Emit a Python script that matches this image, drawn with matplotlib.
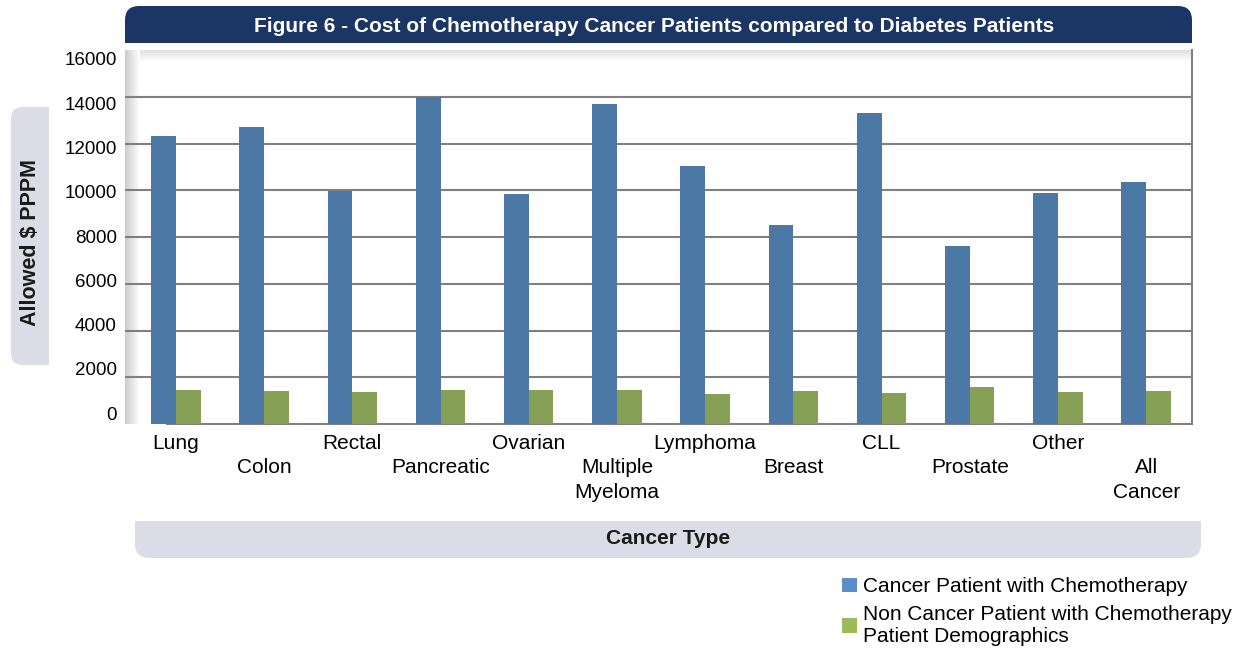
import numpy as np
import matplotlib.pyplot as plt
from matplotlib.patches import FancyBboxPatch, Rectangle, Patch

plt.rcParams['font.family'] = ['Liberation Sans', 'DejaVu Sans']

# Data
categories = ['Lung', 'Colon', 'Rectal', 'Pancreatic', 'Ovarian', 'Multiple\nMyeloma',
              'Lymphoma', 'Breast', 'CLL', 'Prostate', 'Other', 'All\nCancer']
cancer_chemo = [12300, 12700, 9950, 14000, 9830, 13700, 11020, 8510, 13320, 7620, 9870, 10340]
non_cancer_chemo = [1470, 1400, 1360, 1440, 1440, 1440, 1280, 1400, 1320, 1570, 1360, 1400]
yticks = [0, 2000, 4000, 6000, 8000, 10000, 12000, 14000, 16000]

blue = '#4b78a5'
green = '#86a055'
W, H = 1237, 651

fig = plt.figure(figsize=(W / 100, H / 100), dpi=100)

# background layer in pixel coordinates for the decorative boxes
bg = fig.add_axes([0, 0, 1, 1], zorder=-1)
bg.set_xlim(0, W)
bg.set_ylim(H, 0)
bg.axis('off')

# title bar (rounded top corners)
bg.add_patch(FancyBboxPatch((125, 6), 1067, 37, boxstyle='round,pad=0,rounding_size=14',
                            fc='#1b3564', ec='none'))
bg.add_patch(Rectangle((125, 25), 1067, 18, fc='#1b3564', ec='none'))
bg.text(654, 26, 'Figure 6 - Cost of Chemotherapy Cancer Patients compared to Diabetes Patients',
        color='white', fontsize=15, fontweight='bold', ha='center', va='center')

# y label box (rounded left side)
bg.add_patch(FancyBboxPatch((11, 107), 38, 258, boxstyle='round,pad=0,rounding_size=12',
                            fc='#dcdce6', ec='none'))
bg.add_patch(Rectangle((30, 107), 19, 258, fc='#dcdce6', ec='none'))
bg.text(31, 243, 'Allowed $ PPPM', rotation=90, fontsize=15.5, fontweight='bold',
        ha='center', va='center', color='#1a1a1a')

# x label box (rounded bottom corners)
bg.add_patch(FancyBboxPatch((135, 521), 1066, 37, boxstyle='round,pad=0,rounding_size=14',
                            fc='#dcdce6', ec='none'))
bg.add_patch(Rectangle((135, 521), 1066, 18, fc='#dcdce6', ec='none'))
bg.text(668, 539, 'Cancer Type', fontsize=15, fontweight='bold',
        ha='center', va='center', color='#1a1a1a')

# main chart
ax = fig.add_axes([125 / W, 1 - 424 / H, 1067 / W, 374 / H])
x = np.arange(len(categories))
bw = 0.28
ax.bar(x - bw / 2, cancer_chemo, bw, color=blue, zorder=3)
ax.bar(x + bw / 2, non_cancer_chemo, bw, color=green, zorder=3)

x0, x1 = -0.578, 11.52
for v in yticks[1:-1]:
    ax.axhline(v, color='#808080', lw=1.5, zorder=1)

# shaded wall edges (darker at the edge, fading inwards)
grad = np.linspace(0.8, 1, 40)
ax.imshow(np.linspace(0.88, 1, 40).reshape(-1, 1), cmap='gray', vmin=0, vmax=1,
          aspect='auto', extent=(x0, x1, 16000 - 500, 16000), origin='upper', zorder=0)
ax.imshow(np.tile(grad, (2, 1)), cmap='gray', vmin=0, vmax=1, aspect='auto',
          extent=(x0, x0 + 0.17, 0, 16000), zorder=0.5)
ax.set_xlim(x0, x1)
ax.set_ylim(0, 16000)

# the original's value labels sit slightly compressed against the gridlines
ax.set_yticks([468 + v * 0.9468 for v in yticks])
ax.set_yticklabels([str(v) for v in yticks], fontsize=13.5)

ax.set_xticks(x)
ax.set_xticklabels([c if i % 2 == 0 else '\n' + c for i, c in enumerate(categories)],
                   fontsize=15, va='top', linespacing=1.38)
ax.tick_params(axis='both', length=0)
ax.tick_params(axis='x', pad=7)
ax.tick_params(axis='y', pad=6)
for s in ['top', 'left']:
    ax.spines[s].set_visible(False)
ax.spines['right'].set_color('#808080')
ax.spines['right'].set_linewidth(1.5)
ax.spines['bottom'].set_color('#808080')
ax.spines['bottom'].set_linewidth(1.5)
ax.spines['bottom'].set_bounds(-0.1, x1)

handles = [Patch(fc='#5b8ec9', ec='none'), Patch(fc='#9bbb59', ec='none')]
fig.legend(handles, ['Cancer Patient with Chemotherapy',
                     'Non Cancer Patient with Chemotherapy\nPatient Demographics'],
           loc='upper left', bbox_to_anchor=(832 / W, 1 - 567 / H), frameon=False,
           fontsize=15, handlelength=0.7, handleheight=0.7, handletextpad=0.3,
           labelspacing=0.4, borderpad=0)

fig.savefig('out.png', dpi=100)
